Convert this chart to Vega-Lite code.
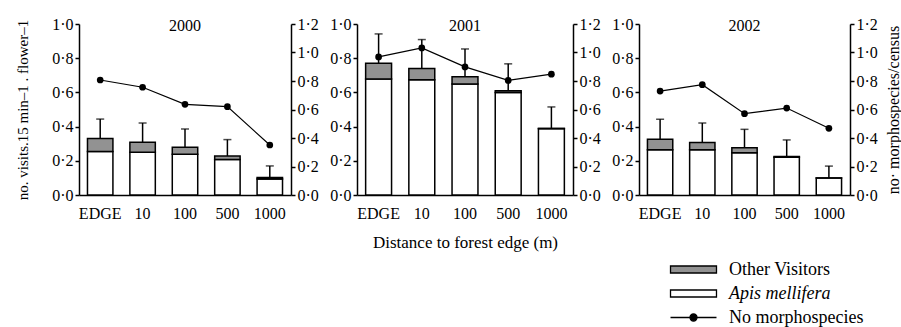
{
  "$schema": "https://vega.github.io/schema/vega-lite/v6.json",
  "padding": {"left": 15, "top": 16, "right": 0, "bottom": 0},
  "bounds": "flush",
  "spacing": 66,
  "config": {
    "font": "Liberation Serif",
    "view": {"stroke": null},
    "axis": {"labelFont": "Liberation Serif", "labelFontSize": 16, "labelColor": "black", "titleFont": "Liberation Serif", "titleFontSize": 15, "titleFontWeight": "normal", "titleColor": "black", "domainColor": "black", "tickColor": "black", "domainWidth": 1.5, "tickWidth": 1.5, "tickSize": 4, "labelPadding": 2, "grid": false, "labelOverlap": false, "labelBound": false},
    "title": {"font": "Liberation Serif", "fontSize": 16, "fontWeight": "normal", "color": "black", "frame": "group", "anchor": "middle"},
    "legend": {"labelFont": "Liberation Serif", "labelFontSize": 18, "labelColor": "black"}
  },
  "data": {"values": [
    {"year": 2000, "distance": "EDGE", "apis": 0.255, "total": 0.331, "errTop": 0.444, "morpho": 0.807},
    {"year": 2000, "distance": "10", "apis": 0.25, "total": 0.308, "errTop": 0.421, "morpho": 0.756},
    {"year": 2000, "distance": "100", "apis": 0.238, "total": 0.279, "errTop": 0.386, "morpho": 0.636},
    {"year": 2000, "distance": "500", "apis": 0.207, "total": 0.228, "errTop": 0.324, "morpho": 0.62},
    {"year": 2000, "distance": "1000", "apis": 0.094, "total": 0.103, "errTop": 0.17, "morpho": 0.351},
    {"year": 2001, "distance": "EDGE", "apis": 0.678, "total": 0.771, "errTop": 0.942, "morpho": 0.969},
    {"year": 2001, "distance": "10", "apis": 0.674, "total": 0.74, "errTop": 0.909, "morpho": 1.032},
    {"year": 2001, "distance": "100", "apis": 0.649, "total": 0.691, "errTop": 0.854, "morpho": 0.899},
    {"year": 2001, "distance": "500", "apis": 0.6, "total": 0.61, "errTop": 0.767, "morpho": 0.804},
    {"year": 2001, "distance": "1000", "apis": 0.388, "total": 0.39, "errTop": 0.515, "morpho": 0.848},
    {"year": 2002, "distance": "EDGE", "apis": 0.264, "total": 0.326, "errTop": 0.443, "morpho": 0.729},
    {"year": 2002, "distance": "10", "apis": 0.264, "total": 0.307, "errTop": 0.421, "morpho": 0.774},
    {"year": 2002, "distance": "100", "apis": 0.247, "total": 0.276, "errTop": 0.384, "morpho": 0.571},
    {"year": 2002, "distance": "500", "apis": 0.221, "total": 0.225, "errTop": 0.322, "morpho": 0.61},
    {"year": 2002, "distance": "1000", "apis": 0.099, "total": 0.1, "errTop": 0.169, "morpho": 0.468}
  ]},
  "hconcat": [
    {
      "width": 212, "height": 171,
      "title": {"text": "2000", "offset": -18},
      "transform": [{"filter": "datum.year == 2000"}],
      "encoding": {"x": {"field": "distance", "type": "nominal", "sort": ["EDGE", "10", "100", "500", "1000"], "scale": {"paddingInner": 0.4, "paddingOuter": 0.2}, "axis": {"title": null, "labelAngle": 0, "ticks": false, "tickSize": 0, "labelPadding": 10}}},
      "layer": [
        {"layer": [
          {"mark": {"type": "bar", "stroke": "black", "strokeWidth": 1.5, "opacity": 1}, "encoding": {
            "y": {"field": "apis", "type": "quantitative", "scale": {"domain": [0, 1]}, "axis": {"values": [0, 0.2, 0.4, 0.6, 0.8, 1], "labelExpr": "replace(format(datum.value, '.1f'), '.', '·')", "title": "no. visits.15 min–1 . flower–1", "titlePadding": 21}},
            "color": {"datum": "Apis mellifera", "scale": {"domain": ["Other Visitors", "Apis mellifera", "No morphospecies"], "range": ["#929292", "#ffffff", "#000000"]}, "legend": {"orient": "none", "legendX": 604, "legendY": 235, "title": null, "symbolSize": 361, "labelOffset": 25, "rowPadding": 4, "labelFontSize": 18,
              "encoding": {
                "symbols": {
                  "shape": {"condition": {"test": "datum.value === 'No morphospecies'", "value": "M-2.42,0H2.42M0.37,0A0.37,0.37,0,1,1,-0.37,0A0.37,0.37,0,1,1,0.37,0Z"}, "value": "M-2.42,-0.37H2.42V0.37H-2.42Z"},
                  "fill": {"condition": [{"test": "datum.value === 'Other Visitors'", "value": "#929292"}, {"test": "datum.value === 'Apis mellifera'", "value": "#ffffff"}], "value": "#000000"},
                  "stroke": {"value": "black"},
                  "strokeWidth": {"value": 1.3},
                  "opacity": {"value": 1}
                },
                "labels": {
                  "fontStyle": {"condition": {"test": "datum.value === 'Apis mellifera'", "value": "italic"}, "value": "normal"}
                }
              }}}
          }},
          {"mark": {"type": "bar", "stroke": "black", "strokeWidth": 1.5, "fill": "#929292", "opacity": 1}, "encoding": {
            "y": {"field": "apis", "type": "quantitative", "axis": {"values": [0, 0.2, 0.4, 0.6, 0.8, 1], "labelExpr": "replace(format(datum.value, '.1f'), '.', '·')", "title": "no. visits.15 min–1 . flower–1", "titlePadding": 21}}, "y2": {"field": "total"}
          }},
          {"mark": {"type": "rule", "color": "black", "strokeWidth": 1.5}, "encoding": {"y": {"field": "total", "type": "quantitative", "axis": {"values": [0, 0.2, 0.4, 0.6, 0.8, 1], "labelExpr": "replace(format(datum.value, '.1f'), '.', '·')", "title": "no. visits.15 min–1 . flower–1", "titlePadding": 21}}, "y2": {"field": "errTop"}}},
          {"mark": {"type": "tick", "color": "black", "size": 8, "thickness": 1.5}, "encoding": {"y": {"field": "errTop", "type": "quantitative", "axis": {"values": [0, 0.2, 0.4, 0.6, 0.8, 1], "labelExpr": "replace(format(datum.value, '.1f'), '.', '·')", "title": "no. visits.15 min–1 . flower–1", "titlePadding": 21}}}}
        ]},
        {"mark": {"type": "line", "color": "black", "strokeWidth": 1.2, "point": {"filled": true, "size": 45, "color": "black"}}, "encoding": {
          "y": {"field": "morpho", "type": "quantitative", "scale": {"domain": [0, 1.2]}, "axis": {"orient": "right", "values": [0, 0.2, 0.4, 0.6, 0.8, 1, 1.2], "labelExpr": "replace(format(datum.value, '.1f'), '.', '·')", "title": null}}
        }}
      ],
      "resolve": {"scale": {"y": "independent"}}
    },
    {
      "width": 216, "height": 171,
      "title": {"text": "2001", "offset": -18},
      "transform": [{"filter": "datum.year == 2001"}],
      "encoding": {"x": {"field": "distance", "type": "nominal", "sort": ["EDGE", "10", "100", "500", "1000"], "scale": {"paddingInner": 0.4, "paddingOuter": 0.2}, "axis": {"title": "Distance to forest edge (m)", "titleFontSize": 17, "titlePadding": 13, "labelAngle": 0, "ticks": false, "tickSize": 0, "labelPadding": 10}}},
      "layer": [
        {"layer": [
          {"mark": {"type": "bar", "stroke": "black", "strokeWidth": 1.5, "fill": "#ffffff", "opacity": 1}, "encoding": {
            "y": {"field": "apis", "type": "quantitative", "scale": {"domain": [0, 1]}, "axis": {"values": [0, 0.2, 0.4, 0.6, 0.8, 1], "labelExpr": "replace(format(datum.value, '.1f'), '.', '·')", "title": null}}
          }},
          {"mark": {"type": "bar", "stroke": "black", "strokeWidth": 1.5, "fill": "#929292", "opacity": 1}, "encoding": {
            "y": {"field": "apis", "type": "quantitative", "axis": {"values": [0, 0.2, 0.4, 0.6, 0.8, 1], "labelExpr": "replace(format(datum.value, '.1f'), '.', '·')", "title": null}}, "y2": {"field": "total"}
          }},
          {"mark": {"type": "rule", "color": "black", "strokeWidth": 1.5}, "encoding": {"y": {"field": "total", "type": "quantitative", "axis": {"values": [0, 0.2, 0.4, 0.6, 0.8, 1], "labelExpr": "replace(format(datum.value, '.1f'), '.', '·')", "title": null}}, "y2": {"field": "errTop"}}},
          {"mark": {"type": "tick", "color": "black", "size": 8, "thickness": 1.5}, "encoding": {"y": {"field": "errTop", "type": "quantitative", "axis": {"values": [0, 0.2, 0.4, 0.6, 0.8, 1], "labelExpr": "replace(format(datum.value, '.1f'), '.', '·')", "title": null}}}}
        ]},
        {"mark": {"type": "line", "color": "black", "strokeWidth": 1.2, "point": {"filled": true, "size": 45, "color": "black"}}, "encoding": {
          "y": {"field": "morpho", "type": "quantitative", "scale": {"domain": [0, 1.2]}, "axis": {"orient": "right", "values": [0, 0.2, 0.4, 0.6, 0.8, 1, 1.2], "labelExpr": "replace(format(datum.value, '.1f'), '.', '·')", "title": null}}
        }}
      ],
      "resolve": {"scale": {"y": "independent"}}
    },
    {
      "width": 211, "height": 171,
      "title": {"text": "2002", "offset": -18},
      "transform": [{"filter": "datum.year == 2002"}],
      "encoding": {"x": {"field": "distance", "type": "nominal", "sort": ["EDGE", "10", "100", "500", "1000"], "scale": {"paddingInner": 0.4, "paddingOuter": 0.2}, "axis": {"title": null, "labelAngle": 0, "ticks": false, "tickSize": 0, "labelPadding": 10}}},
      "layer": [
        {"layer": [
          {"mark": {"type": "bar", "stroke": "black", "strokeWidth": 1.5, "fill": "#ffffff", "opacity": 1}, "encoding": {
            "y": {"field": "apis", "type": "quantitative", "scale": {"domain": [0, 1]}, "axis": {"values": [0, 0.2, 0.4, 0.6, 0.8, 1], "labelExpr": "replace(format(datum.value, '.1f'), '.', '·')", "title": null}}
          }},
          {"mark": {"type": "bar", "stroke": "black", "strokeWidth": 1.5, "fill": "#929292", "opacity": 1}, "encoding": {
            "y": {"field": "apis", "type": "quantitative", "axis": {"values": [0, 0.2, 0.4, 0.6, 0.8, 1], "labelExpr": "replace(format(datum.value, '.1f'), '.', '·')", "title": null}}, "y2": {"field": "total"}
          }},
          {"mark": {"type": "rule", "color": "black", "strokeWidth": 1.5}, "encoding": {"y": {"field": "total", "type": "quantitative", "axis": {"values": [0, 0.2, 0.4, 0.6, 0.8, 1], "labelExpr": "replace(format(datum.value, '.1f'), '.', '·')", "title": null}}, "y2": {"field": "errTop"}}},
          {"mark": {"type": "tick", "color": "black", "size": 8, "thickness": 1.5}, "encoding": {"y": {"field": "errTop", "type": "quantitative", "axis": {"values": [0, 0.2, 0.4, 0.6, 0.8, 1], "labelExpr": "replace(format(datum.value, '.1f'), '.', '·')", "title": null}}}}
        ]},
        {"mark": {"type": "line", "color": "black", "strokeWidth": 1.2, "point": {"filled": true, "size": 45, "color": "black"}}, "encoding": {
          "y": {"field": "morpho", "type": "quantitative", "scale": {"domain": [0, 1.2]}, "axis": {"orient": "right", "values": [0, 0.2, 0.4, 0.6, 0.8, 1, 1.2], "labelExpr": "replace(format(datum.value, '.1f'), '.', '·')", "title": "no· morphospecies/census", "titleAngle": 270, "titleFontSize": 16, "titlePadding": 24}}
        }}
      ],
      "resolve": {"scale": {"y": "independent"}}
    }
  ]
}
